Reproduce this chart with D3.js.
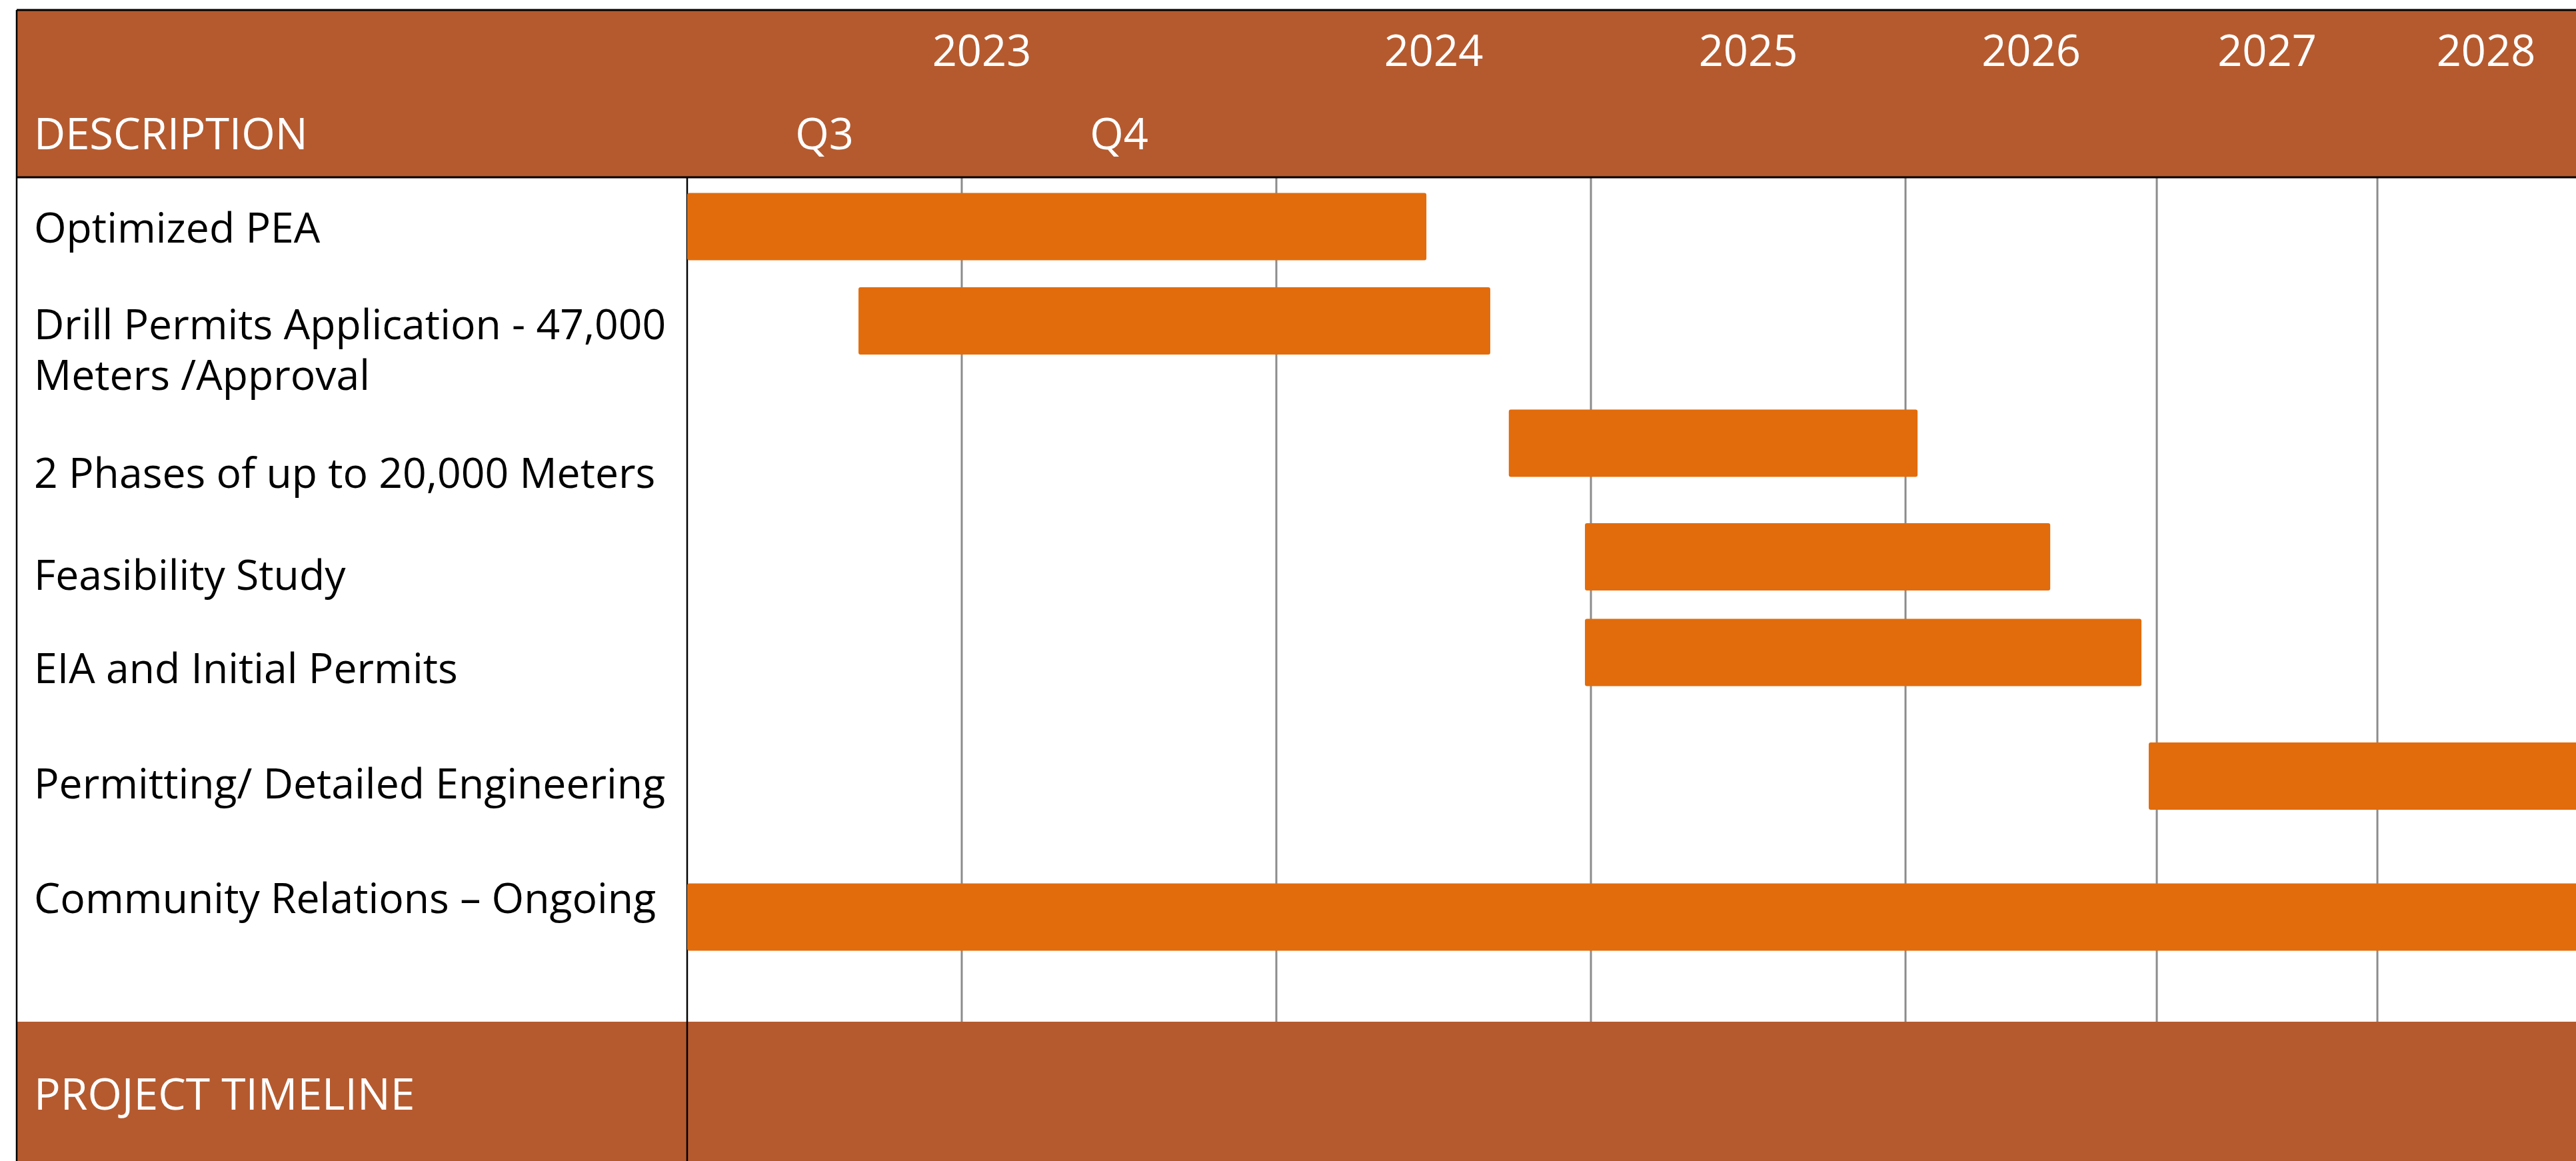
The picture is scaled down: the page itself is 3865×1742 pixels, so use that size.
<!DOCTYPE html>
<html>
<head>
<meta charset="utf-8">
<script src="https://cdn.jsdelivr.net/npm/d3@7"></script>
<style>
  html, body { margin: 0; padding: 0; background: #ffffff; }
  svg { display: block; }
  text { font-family: "Open Sans", "Lato", sans-serif; }
</style>
</head>
<body>
<script>
// ---------------- DATA ----------------
const tasks = [
  "Optimized PEA",
  "Drill Permits Application - 47,000\nMeters /Approval",
  "2 Phases of up to 20,000 Meters",
  "Feasibility Study",
  "EIA and Initial Permits",
  "Permitting/ Detailed Engineering",
  "Community Relations \u2013 Ongoing"
];
// start / end as fractional years
const startDates = [2023.50, 2023.656, 2024.739, 2024.981, 2024.981, 2026.968, 2023.50];
const endDates   = [2024.477, 2024.680, 2026.048, 2026.576, 2026.939, 2029.0, 2029.0];

const periodBounds = [2023.5, 2023.75, 2024, 2025, 2026, 2027, 2028, 2029];
const yearLabels = ["2023", "2024", "2025", "2026", "2027", "2028"];
const yearSpans = [[2023.5, 2024], [2024, 2025], [2025, 2026], [2026, 2027], [2027, 2028], [2028, 2029]];
const quarterLabels = ["Q3", "Q4"];
const quarterSpans = [[2023.5, 2023.75], [2023.75, 2024]];
const headerTitle = "DESCRIPTION";
const footerTitle = "PROJECT TIMELINE";

// ---------------- LAYOUT ----------------
const W = 3865, H = 1742;
const outerLeft = 25, headerTop = 15, headerBottom = 266, footerTop = 1533;
const divX = 1031;
const columnWidths = [412, 472, 472, 472, 377, 331, 326];
const brown = "#B55A2F", barColor = "#E26C0C", gridColor = "#8C8C8C";

const colRange = [divX];
columnWidths.forEach(w => colRange.push(colRange[colRange.length - 1] + w));
const x = d3.scaleLinear().domain(periodBounds).range(colRange);
const spanMid = s => (x(s[0]) + x(s[1])) / 2;

const barCenter = d3.scaleOrdinal().domain(tasks).range([340, 481.5, 665, 835.5, 979, 1164.5, 1376]);
const labelBase = d3.scaleOrdinal().domain(tasks).range([364, 509, 732, 885, 1025, 1198, 1370]);
const barH = 101;
const lineH = 76;

const svg = d3.select("body").append("svg").attr("width", W).attr("height", H);

// header band
svg.append("rect").attr("x", outerLeft).attr("y", headerTop)
  .attr("width", W - outerLeft).attr("height", headerBottom - headerTop).attr("fill", brown);
// footer band
svg.append("rect").attr("x", outerLeft).attr("y", footerTop)
  .attr("width", W - outerLeft).attr("height", H - footerTop).attr("fill", brown);

// gridlines
const gridVals = periodBounds.slice(1, -1);
svg.append("g").selectAll("line").data(gridVals).join("line")
  .attr("x1", d => x(d)).attr("x2", d => x(d))
  .attr("y1", headerBottom).attr("y2", footerTop)
  .attr("stroke", gridColor).attr("stroke-width", 3);

// header lines
svg.append("line").attr("x1", outerLeft).attr("x2", W).attr("y1", headerTop).attr("y2", headerTop)
  .attr("stroke", "#000").attr("stroke-width", 3);
svg.append("line").attr("x1", outerLeft).attr("x2", W).attr("y1", headerBottom).attr("y2", headerBottom)
  .attr("stroke", "#000").attr("stroke-width", 3);
// left border
svg.append("line").attr("x1", outerLeft).attr("x2", outerLeft).attr("y1", headerTop).attr("y2", H)
  .attr("stroke", "#000").attr("stroke-width", 2.5);
// divider
svg.append("line").attr("x1", divX).attr("x2", divX).attr("y1", headerBottom).attr("y2", H)
  .attr("stroke", "#000").attr("stroke-width", 2.5);

// bars
const barData = tasks.map((t, i) => ({ task: t, s: startDates[i], e: endDates[i] }));
svg.append("g").selectAll("rect").data(barData).join("rect")
  .attr("x", d => x(d.s))
  .attr("y", d => barCenter(d.task) - barH / 2)
  .attr("width", d => x(d.e) - x(d.s))
  .attr("height", barH)
  .attr("rx", 3)
  .attr("fill", barColor);

// row labels
const labelX = 51;
const lbl = svg.append("g").selectAll("text").data(tasks).join("text")
  .attr("x", labelX).attr("y", d => labelBase(d))
  .attr("font-size", 62.5).attr("fill", "#000");
lbl.each(function(d) {
  const lines = d.split("\n");
  d3.select(this).selectAll("tspan").data(lines).join("tspan")
    .attr("x", labelX).attr("dy", (l, i) => i === 0 ? 0 : lineH).text(l => l);
});

// header texts
svg.append("text").attr("x", labelX).attr("y", 224).attr("font-size", 65)
  .attr("fill", "#fff").text(headerTitle);
svg.append("g").selectAll("text").data(yearLabels).join("text")
  .attr("x", (d, i) => spanMid(yearSpans[i]))
  .attr("y", 99).attr("text-anchor", "middle").attr("font-size", 65)
  .attr("fill", "#fff").text(d => d);
svg.append("g").selectAll("text").data(quarterLabels).join("text")
  .attr("x", (d, i) => spanMid(quarterSpans[i]))
  .attr("y", 224).attr("text-anchor", "middle").attr("font-size", 65)
  .attr("fill", "#fff").text(d => d);

// footer title
svg.append("text").attr("x", labelX).attr("y", 1665).attr("font-size", 66)
  .attr("fill", "#fff").text(footerTitle);
</script>
</body>
</html>
